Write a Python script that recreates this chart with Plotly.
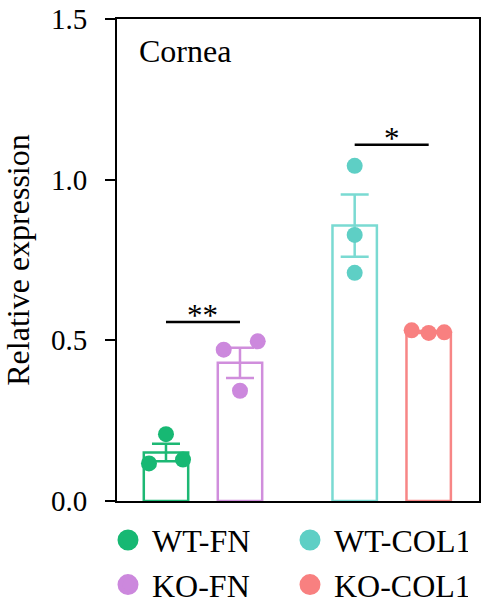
import plotly.graph_objects as go

# ---- data ----
groups = ["WT-FN", "KO-FN", "WT-COL1", "KO-COL1"]
means = [0.151, 0.430, 0.857, 0.526]
sems = [0.027, 0.047, 0.097, 0.003]
points = [
    [0.117, 0.208, 0.129],
    [0.471, 0.497, 0.343],
    [1.043, 0.828, 0.710],
    [0.531, 0.523, 0.525],
]
sig_pairs = [(0, 1, 0.557, "**"), (2, 3, 1.109, "*")]
y_ticks = [0.0, 0.5, 1.0, 1.5]
y_ticktext = ["0.0", "0.5", "1.0", "1.5"]
panel_label = "Cornea"
y_title = "Relative expression"
legend_order = [0, 2, 1, 3]

# ---- layout / style ----
x_pos = [0, 1, 2.55, 3.55]
jitter = [[-0.23, 0, 0.23], [-0.22, 0.24, 0], [0, 0, 0], [-0.23, 0, 0.21]]
fill_cols = ["#17B873", "#CC88DD", "#5ECFC5", "#F88080"]
line_cols = ["#1DB874", "#D08EDC", "#7ADAD2", "#F78686"]
FONT = "Liberation Serif"

fig = go.Figure()

for i, g in enumerate(groups):
    fig.add_trace(go.Bar(
        x=[x_pos[i]], y=[means[i]], width=0.6,
        marker=dict(color="rgba(0,0,0,0)", line=dict(color=line_cols[i], width=2.5)),
        error_y=dict(type="data", array=[sems[i]], visible=True,
                     color=line_cols[i], thickness=2.5, width=14),
        showlegend=False, hoverinfo="skip",
    ))

for i, g in enumerate(groups):
    fig.add_trace(go.Scatter(
        x=[x_pos[i] + j for j in jitter[i]], y=points[i], mode="markers",
        marker=dict(color=fill_cols[i], size=16, line=dict(width=0)),
        showlegend=False,
    ))

for i in legend_order:
    fig.add_trace(go.Scatter(
        x=[None], y=[None], mode="markers", name=groups[i],
        marker=dict(color=fill_cols[i], size=16, line=dict(color=fill_cols[i], width=5)),
        showlegend=True,
    ))

for a, b, yv, txt in sig_pairs:
    fig.add_shape(type="line", xref="x", yref="y", x0=x_pos[a], x1=x_pos[b],
                  y0=yv, y1=yv, line=dict(color="black", width=2.5))
    fig.add_annotation(x=(x_pos[a] + x_pos[b]) / 2, y=yv, xref="x", yref="y",
                       text=txt, showarrow=False, yanchor="bottom", yshift=-13,
                       font=dict(family=FONT, size=31, color="black"))

fig.add_annotation(x=0.055, y=0.934, xref="paper", yref="paper", text=panel_label,
                   showarrow=False, xanchor="left", yanchor="middle",
                   font=dict(family=FONT, size=32, color="black"))

fig.update_layout(
    width=481, height=610,
    margin=dict(l=117, r=2, t=19, b=109, autoexpand=False),
    paper_bgcolor="white", plot_bgcolor="white",
    barmode="overlay",
    font=dict(family=FONT, color="black"),
    legend=dict(orientation="h", xref="container", yref="container",
                x=0.2162, y=0.1595, xanchor="left", yanchor="top",
                itemwidth=38, entrywidth=129, entrywidthmode="pixels",
                font=dict(family=FONT, size=32, color="black"),
                tracegroupgap=0, itemsizing="trace"),
    xaxis=dict(range=[-0.662, 4.23], showline=True, mirror=True, linecolor="black",
               linewidth=2, showticklabels=False, ticks="", showgrid=False, zeroline=False),
    yaxis=dict(range=[0, 1.5], showline=True, mirror=True, linecolor="black", linewidth=2,
               ticks="outside", ticklen=10, tickwidth=2, tickcolor="black",
               ticklabelstandoff=12, automargin=True,
               tickvals=y_ticks, ticktext=y_ticktext, showgrid=False, zeroline=False,
               tickfont=dict(family=FONT, size=29, color="black"),
               title=dict(text=y_title, font=dict(family=FONT, size=32, color="black"),
                          standoff=14)),
)

fig.write_html("out.html")
